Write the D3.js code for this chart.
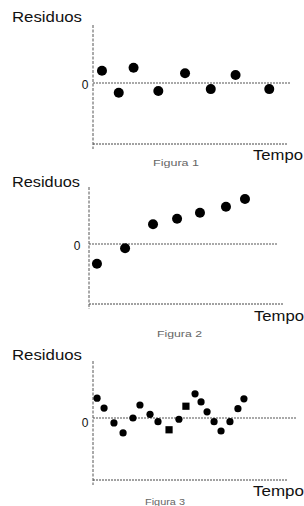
<!DOCTYPE html>
<html>
<head>
<meta charset="utf-8">
<script src="https://cdn.jsdelivr.net/npm/d3@7"></script>
<style>
  body { margin: 0; background: #fff; }
  svg { display: block; font-family: "Liberation Sans", Arial, sans-serif; }
</style>
</head>
<body>
<div id="chart"></div>
<script>
// data (tempo on 0..100, residuos on -1..1)
const tempo1 = [4.6, 13.2, 20.8, 33.5, 47.2, 60.4, 73.1, 90.4];
const residuos1 = [0.20, -0.16, 0.25, -0.13, 0.16, -0.10, 0.13, -0.10];

const tempo2 = [4.1, 18.6, 33.0, 45.4, 57.2, 70.6, 80.4];
const residuos2 = [-0.33, -0.07, 0.33, 0.42, 0.52, 0.62, 0.75];

const tempo3 = [2.1, 5.7, 10.8, 15.5, 20.6, 24.2, 29.4, 33.5, 39.2, 44.3,
  47.9, 52.6, 55.7, 58.8, 62.4, 66.0, 70.6, 74.7, 77.8];
const residuos3 = [0.32, 0.16, -0.08, -0.24, 0.00, 0.21, 0.06, -0.06, -0.19, -0.02,
  0.19, 0.39, 0.26, 0.10, -0.06, -0.21, -0.06, 0.15, 0.31];
const marcadores3 = ['c', 'c', 'c', 'c', 'c', 'c', 'c', 'c', 's', 'c',
  's', 'c', 'c', 'c', 'c', 'c', 'c', 'c', 'c'];

const yLabel = 'Residuos';
const xLabel = 'Tempo';
const zeroLabel = '0';
const figuras = ['Figura 1', 'Figura 2', 'Figura 3'];

// layout of each panel
const panels = [
  { t: tempo1, r: residuos1, m: null, fig: figuras[0], size: 5,
    left: 93, right: 288, zeroEnd: 290, top: 25, bottom: 144, yTop: 22,
    res: [12, 22, 70], zero: [85, 85], tempo: [253, 160, 50], figura: [153, 166, 46] },
  { t: tempo2, r: residuos2, m: null, fig: figuras[1], size: 5,
    left: 89, right: 283, zeroEnd: 277, top: 187, bottom: 304, yTop: 184,
    res: [12, 187, 68], zero: [77, 246], tempo: [254, 321, 50], figura: [157, 337, 45] },
  { t: tempo3, r: residuos3, m: marcadores3, fig: figuras[2], size: 3.6,
    left: 93, right: 287, zeroEnd: 297, top: 361, bottom: 480, yTop: 356,
    res: [12, 360, 70], zero: [85, 423], tempo: [253, 496, 51], figura: [145, 505, 40] }
];

const svg = d3.select('#chart').append('svg')
  .attr('width', 304)
  .attr('height', 506);

panels.forEach(p => {
  const x = d3.scaleLinear().domain([0, 100]).range([p.left, p.right]);
  const y = d3.scaleLinear().domain([-1, 1]).range([p.bottom, p.yTop]);
  const g = svg.append('g');

  // y axis (dashed)
  g.append('line')
    .attr('x1', x(0)).attr('x2', x(0))
    .attr('y1', p.top).attr('y2', p.bottom + 5)
    .attr('stroke', '#555').attr('stroke-width', 1)
    .attr('stroke-dasharray', '3,1.5');

  // bottom axis
  g.append('line')
    .attr('x1', x(0)).attr('x2', x(100))
    .attr('y1', y(-1)).attr('y2', y(-1))
    .attr('stroke', '#444').attr('stroke-width', 1)
    .attr('stroke-dasharray', '2,1');

  // zero line
  g.append('line')
    .attr('x1', x(0)).attr('x2', p.zeroEnd)
    .attr('y1', y(0)).attr('y2', y(0))
    .attr('stroke', '#555').attr('stroke-width', 1.2)
    .attr('stroke-dasharray', '2,1');

  const pts = p.t.map((t, i) => ({ t: t, r: p.r[i], m: p.m ? p.m[i] : 'c' }));

  g.selectAll('circle.pt')
    .data(pts.filter(d => d.m === 'c'))
    .enter().append('circle')
    .attr('class', 'pt')
    .attr('cx', d => x(d.t))
    .attr('cy', d => y(d.r))
    .attr('r', p.size)
    .attr('fill', '#000');

  g.selectAll('rect.pt')
    .data(pts.filter(d => d.m === 's'))
    .enter().append('rect')
    .attr('class', 'pt')
    .attr('x', d => x(d.t) - p.size)
    .attr('y', d => y(d.r) - p.size)
    .attr('width', p.size * 2)
    .attr('height', p.size * 2)
    .attr('fill', '#000');

  // labels
  g.append('text')
    .attr('x', p.res[0]).attr('y', p.res[1])
    .attr('textLength', p.res[2]).attr('lengthAdjust', 'spacingAndGlyphs')
    .style('font-size', '14px').attr('fill', '#111')
    .text(yLabel);

  g.append('text')
    .attr('x', p.zero[0]).attr('y', p.zero[1])
    .attr('dy', '0.35em').attr('text-anchor', 'middle')
    .style('font-size', '12px').attr('fill', '#111')
    .text(zeroLabel);

  g.append('text')
    .attr('x', p.tempo[0]).attr('y', p.tempo[1])
    .attr('textLength', p.tempo[2]).attr('lengthAdjust', 'spacingAndGlyphs')
    .style('font-size', '14px').attr('fill', '#111')
    .text(xLabel);

  g.append('text')
    .attr('x', p.figura[0]).attr('y', p.figura[1])
    .attr('textLength', p.figura[2]).attr('lengthAdjust', 'spacingAndGlyphs')
    .style('font-size', '9px').attr('fill', '#666')
    .text(p.fig);
});
</script>
</body>
</html>
